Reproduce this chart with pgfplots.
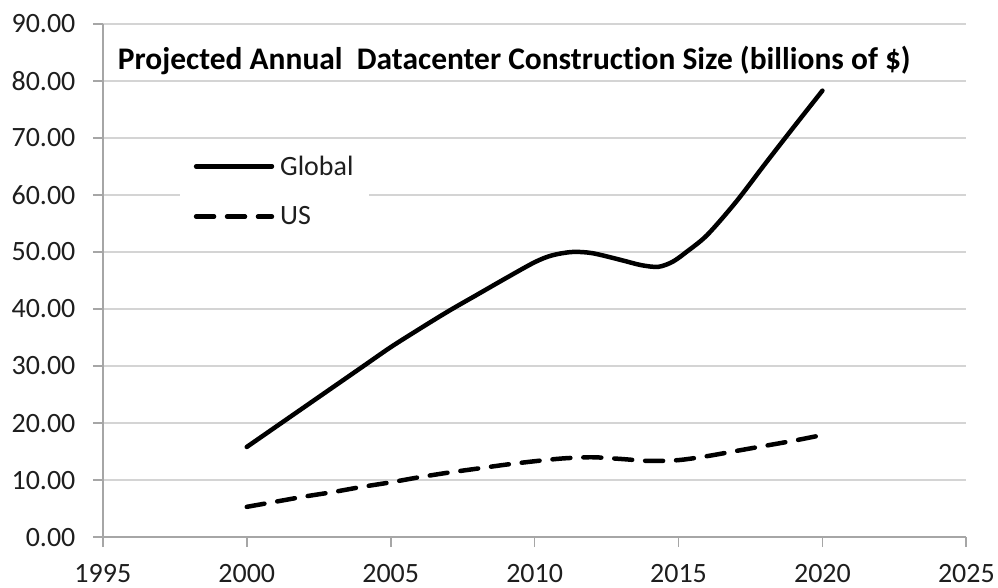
\documentclass[border=0pt]{standalone}
\usepackage{pgfplots}
\pgfplotsset{compat=1.18}
\usepackage{fontspec}
\setmainfont{Carlito}[Ligatures=NoCommon]
\definecolor{gridc}{HTML}{D4D4D4}
\definecolor{axisc}{HTML}{A6A6A6}
\definecolor{txt}{HTML}{1E1E1E}
\begin{document}
\begin{tikzpicture}
\begin{axis}[
  scale only axis,
  width=865pt, height=514pt,
  xmin=1995, xmax=2025, ymin=0, ymax=90,
  xtick={1995,2000,...,2025},
  ytick={0,10,...,90},
  axis x line*=bottom, axis y line*=left,
  axis line style={color=axisc, line width=1.8pt},
  ymajorgrids,
  grid style={color=gridc, line width=2pt},
  tick align=outside,
  major tick length=10pt,
  tick style={color=axisc, line width=1.8pt},
  every tick label/.append style={font=\fontsize{28}{32}\selectfont, text=txt},
  /pgf/number format/assume math mode=true,
  yticklabel style={/pgf/number format/fixed, /pgf/number format/fixed zerofill, /pgf/number format/precision=2, xshift=-14pt},
  xticklabel style={/pgf/number format/1000 sep={}, yshift=-14pt},
  legend style={at={(rel axis cs:0.089,0.751)}, anchor=north west, draw=none, fill=white,
    font=\fontsize{28}{31}\selectfont, text=txt, inner xsep=14pt, inner ysep=2pt, row sep=26pt, cells={anchor=west}},
  legend image code/.code={\draw[#1] (0pt,0pt) -- (76pt,0pt); \path (80pt,0pt);},
  clip=false,
]
\addplot[black, line width=4.5pt, smooth, line cap=round] coordinates {
 (2000,15.8) (2001,19.3) (2002,22.8) (2003,26.3) (2004,29.8) (2005,33.3) (2006,36.5) (2007,39.6) (2008,42.5) (2009,45.4) (2010,48.2) (2010.6,49.4) (2011.3,50.0) (2012,49.8) (2013,48.6) (2013.7,47.7) (2014.3,47.4) (2014.8,48.3) (2015.3,50.1) (2016,53.0) (2017,58.8) (2018,65.4) (2019,71.9) (2020,78.3)
};
\addlegendentry{Global}
\addplot[black, line width=4.5pt, smooth, line cap=round, dash pattern=on 18pt off 13pt] coordinates {
 (2000,5.3) (2001,6.2) (2002,7.1) (2003,7.9) (2004,8.8) (2005,9.6) (2006,10.5) (2007,11.3) (2008,12.0) (2009,12.7) (2010,13.3) (2011,13.8) (2012,14.0) (2013,13.7) (2014,13.35) (2015,13.5) (2016,14.2) (2017,15.1) (2018,16.0) (2019,16.9) (2020,17.9)
};
\addlegendentry{US}
\node[anchor=base west, font=\bfseries\fontsize{31.5}{34}\selectfont, text=black, inner sep=0pt] at (rel axis cs:0.0173,0.9105) {Projected Annual\ \ Datacenter Construction Size (billions of \$)};
\end{axis}
\path (current axis.south west) +(-103pt,-51pt);
\path (current axis.north east) +(30pt,24pt);
\end{tikzpicture}
\end{document}
